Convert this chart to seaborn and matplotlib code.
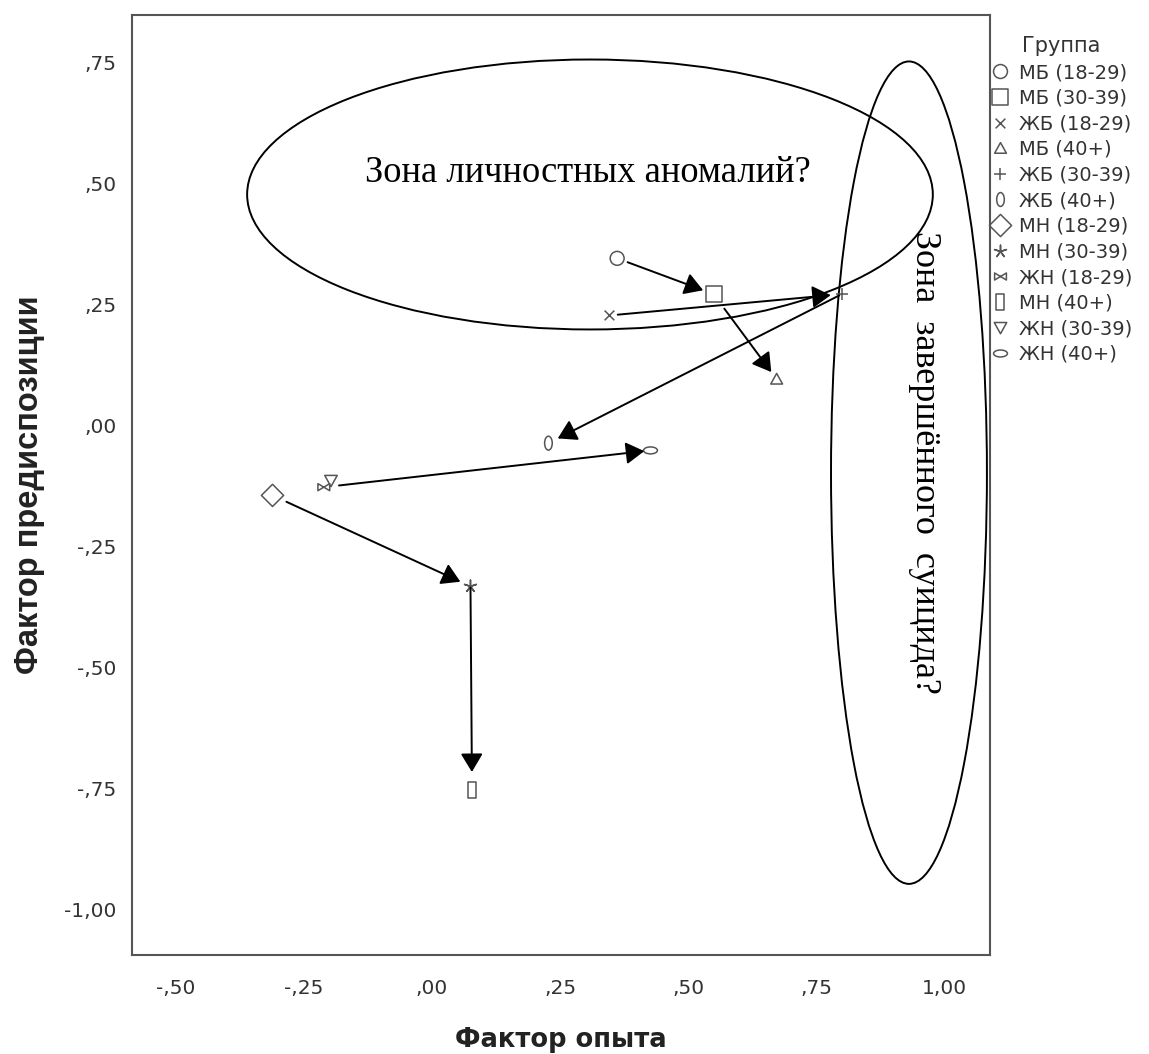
import numpy as np
import pandas as pd
import matplotlib
matplotlib.use("Agg")
import matplotlib.pyplot as plt
import seaborn as sns
from matplotlib.path import Path
from matplotlib.patches import Ellipse
from matplotlib.lines import Line2D
from matplotlib.ticker import FixedLocator, FixedFormatter

# ---------------- data ----------------
groups = ["МБ (18-29)", "МБ (30-39)", "ЖБ (18-29)", "МБ (40+)", "ЖБ (30-39)", "ЖБ (40+)",
          "МН (18-29)", "МН (30-39)", "ЖН (18-29)", "МН (40+)", "ЖН (30-39)", "ЖН (40+)"]
experience = [0.361, 0.549, 0.346, 0.672, 0.799, 0.227,
              -0.311, 0.075, -0.211, 0.078, -0.197, 0.426]
predisposition = [0.345, 0.271, 0.227, 0.095, 0.271, -0.037,
                  -0.145, -0.333, -0.128, -0.754, -0.114, -0.052]

arrow_from = ["МБ (18-29)", "ЖБ (18-29)", "МБ (30-39)", "ЖБ (30-39)",
              "ЖН (18-29)", "МН (18-29)", "МН (30-39)"]
arrow_to = ["МБ (30-39)", "ЖБ (30-39)", "МБ (40+)", "ЖБ (40+)",
            "ЖН (40+)", "МН (30-39)", "МН (40+)"]

xtick_values = [-0.5, -0.25, 0.0, 0.25, 0.5, 0.75, 1.0]
xtick_labels = ["-,50", "-,25", ",00", ",25", ",50", ",75", "1,00"]
ytick_values = [0.75, 0.5, 0.25, 0.0, -0.25, -0.5, -0.75, -1.0]
ytick_labels = [",75", ",50", ",25", ",00", "-,25", "-,50", "-,75", "-1,00"]

x_label = "Фактор опыта"
y_label = "Фактор предиспозиции"
legend_title = "Группа"
zone1_text = "Зона личностных аномалий?"
zone2_text = "Зона  завершённого  суицида?"

# ---------------- marker shapes ----------------
def closed(verts):
    verts = list(verts) + [verts[0]]
    codes = [Path.MOVETO] + [Path.LINETO] * (len(verts) - 2) + [Path.CLOSEPOLY]
    return Path(verts, codes)

def segs(pairs):
    verts, codes = [], []
    for a, b in pairs:
        verts += [a, b]
        codes += [Path.MOVETO, Path.LINETO]
    return Path(verts, codes)

def ellipse_path(sx, sy):
    c = Path.unit_circle()
    return Path(c.vertices * np.array([sx, sy]), c.codes)

ast = Path.unit_regular_asterisk(5)
marker_paths = [
    Path.unit_circle(),
    closed([(-1, -1), (1, -1), (1, 1), (-1, 1)]),
    segs([((-1, -1), (1, 1)), ((-1, 1), (1, -1))]),
    closed([(0, 1), (-1, -0.8), (1, -0.8)]),
    segs([((-1, 0), (1, 0)), ((0, -1), (0, 1))]),
    ellipse_path(0.55, 1.0),
    closed([(0, 1), (1, 0), (0, -1), (-1, 0)]),
    Path(ast.vertices, ast.codes),
    closed([(-1, 0.6), (1, -0.6), (1, 0.6), (-1, -0.6)]),
    closed([(-0.45, -1), (0.45, -1), (0.45, 1), (-0.45, 1)]),
    closed([(0, -1), (-1, 0.8), (1, 0.8)]),
    ellipse_path(1.0, 0.5),
]
marker_pts = [10, 11.5, 7, 8.5, 8.5, 10, 16, 9, 8.5, 11.5, 9, 10]
markers = dict(zip(groups, marker_paths))
sizes = {g: s ** 2 for g, s in zip(groups, marker_pts)}
shrink_start = [8, 6, 13, 2, 11, 11, 1]
shrink_end = [8, 8, 6.5, 7.5, 4.5, 8, 13]

df = pd.DataFrame({"group": groups, "x": experience, "y": predisposition})

# ---------------- figure ----------------
sns.set_style("white")
plt.rcParams["font.family"] = ["DejaVu Sans"]
edge = "#555555"
txt = "#333333"

fig = plt.figure(figsize=(11.49, 10.54), dpi=100)
ax = fig.add_axes([0.11488, 0.09393, 0.74674, 0.89184])

sns.scatterplot(data=df, x="x", y="y", style="group", markers=markers,
                size="group", sizes=sizes, facecolor="none", edgecolor=edge,
                linewidth=1.1, legend=False, ax=ax, zorder=3)

pos = {g: (xv, yv) for g, xv, yv in zip(groups, experience, predisposition)}
for a, b, sa, sb in zip(arrow_from, arrow_to, shrink_start, shrink_end):
    ax.annotate("", xy=pos[b], xytext=pos[a], xycoords="data", textcoords="data",
                arrowprops=dict(arrowstyle="-|>,head_length=0.45,head_width=0.27",
                                mutation_scale=25, color="black", lw=1.4,
                                shrinkA=sa, shrinkB=sb), zorder=4)

ax.add_patch(Ellipse((0.308, 0.477), 1.337, 0.558, fill=False, ec="black", lw=1.4, zorder=2))
ax.add_patch(Ellipse((0.930, -0.098), 0.304, 1.700, fill=False, ec="black", lw=1.4, zorder=2))

ax.text(0.303, 0.502, zone1_text, ha="center", va="baseline",
        family="Liberation Serif", fontsize=26.3, color="black")
ax.text(0.961, -0.076, zone2_text, ha="center", va="center", rotation=270,
        family="Liberation Serif", fontsize=26, color="black")

ax.set_xlim(-0.585, 1.088)
ax.set_ylim(-1.095, 0.848)
ax.xaxis.set_major_locator(FixedLocator(xtick_values))
ax.xaxis.set_major_formatter(FixedFormatter(xtick_labels))
ax.yaxis.set_major_locator(FixedLocator(ytick_values))
ax.yaxis.set_major_formatter(FixedFormatter(ytick_labels))
ax.tick_params(axis="both", direction="out", length=9.5, width=1.5, color=edge,
               labelsize=14.5, labelcolor=txt)
ax.tick_params(axis="x", pad=7.5)
ax.tick_params(axis="y", pad=1.5)
for sp in ax.spines.values():
    sp.set_color(edge)
    sp.set_linewidth(1.5)
ax.grid(False)

ax.set_xlabel(x_label, fontsize=18.5, fontweight="bold", color="#222222",
              family="DejaVu Sans", labelpad=21)
ax.set_ylabel(y_label, fontsize=23.5, fontweight="bold", color="#222222",
              family="Liberation Sans", labelpad=14)

handles = [Line2D([], [], linestyle="", marker=m, markersize=s,
                  markerfacecolor="none", markeredgecolor=edge, markeredgewidth=1.1)
           for m, s in zip(marker_paths, marker_pts)]
leg = ax.legend(handles, groups, title=legend_title, loc="upper left",
                bbox_to_anchor=(972.8 / 1149, 1 - 19 / 1054),
                bbox_transform=fig.transFigure, frameon=False,
                fontsize=14, title_fontsize=15, handlelength=1.0,
                handletextpad=0.5, borderpad=0.9, borderaxespad=0,
                labelspacing=0.34)
for t in leg.get_texts():
    t.set_color(txt)
leg.get_title().set_color(txt)

fig.savefig("out.png", dpi=100)
